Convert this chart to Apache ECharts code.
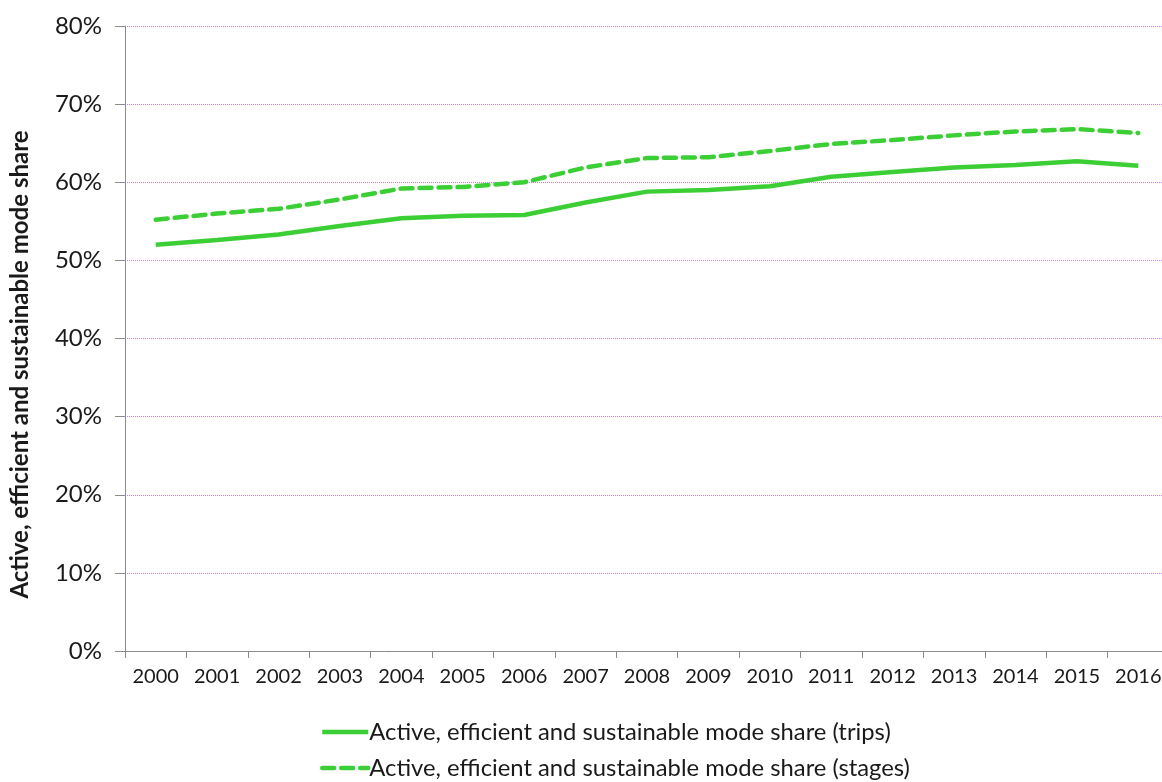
<!DOCTYPE html>
<html>
<head>
<meta charset="utf-8">
<script src="https://cdn.jsdelivr.net/npm/echarts@6/dist/echarts.min.js"></script>
<style>html,body{margin:0;padding:0;background:#fff;}#c{width:1162px;height:782px;}</style>
</head>
<body>
<div id="c"></div>
<script>
const years = ['2000','2001','2002','2003','2004','2005','2006','2007','2008','2009','2010','2011','2012','2013','2014','2015','2016'];
const tripsShare = [52.0,52.6,53.3,54.4,55.4,55.7,55.8,57.4,58.8,59.0,59.5,60.7,61.3,61.9,62.2,62.7,62.1];
const stagesShare = [55.2,56.0,56.6,57.8,59.2,59.4,60.0,61.9,63.1,63.2,64.0,64.9,65.4,66.0,66.5,66.8,66.3];
const seriesNames = ['Active, efficient and sustainable mode share (trips)','Active, efficient and sustainable mode share (stages)'];
const yAxisTitle = 'Active, efficient and sustainable mode share';

const green = '#3ccf35';
const font = 'Lato';
const chart = echarts.init(document.getElementById('c'));
chart.setOption({
  animation: false,
  textStyle: {fontFamily: font},
  grid: {left: 125, right: -7, top: 26, bottom: 131, containLabel: false, outerBoundsMode: 'none'},
  xAxis: {
    type: 'category', data: years, boundaryGap: true,
    axisLine: {lineStyle: {color: '#8c8c8c', width: 1}},
    axisTick: {show: true, length: 7, lineStyle: {color: '#8c8c8c'}},
    axisLabel: {color: '#1a1a1a', fontSize: 20, fontFamily: font, margin: 16}
  },
  yAxis: {
    type: 'value', min: 0, max: 80, interval: 10,
    name: yAxisTitle, nameLocation: 'middle', nameGap: 93, nameRotate: 90,
    nameTextStyle: {color: '#1a1a1a', fontSize: 24, fontWeight: 'bold', fontFamily: font, padding: [0, 52, 0, 0]},
    axisLine: {show: true, lineStyle: {color: '#8c8c8c', width: 1}},
    axisTick: {show: true, length: 10, lineStyle: {color: '#8c8c8c'}},
    axisLabel: {color: '#1a1a1a', fontSize: 24, fontFamily: font, margin: 23, formatter: '{value}%'},
    splitLine: {show: true, lineStyle: {color: '#bf7dff', type: [1, 1], width: 1}}
  },
  legend: {
    orient: 'vertical', left: 320, top: 720, itemGap: 12, padding: 0,
    itemWidth: 46, itemHeight: 24,
    itemStyle: {opacity: 0},
    lineStyle: {width: 4.5},
    textStyle: {color: '#1a1a1a', fontSize: 23.8, fontFamily: font, padding: [0,0,0,-4]},
    data: seriesNames
  },
  series: [
    {name: seriesNames[0], type: 'line', data: tripsShare, symbol: 'none', smooth: false,
     lineStyle: {color: green, width: 4.5}, itemStyle: {color: green}},
    {name: seriesNames[1], type: 'line', data: stagesShare, symbol: 'none', smooth: false,
     lineStyle: {color: green, width: 4.5, type: [12, 7], cap: 'round'}, itemStyle: {color: green}}
  ]
});
</script>
</body>
</html>
